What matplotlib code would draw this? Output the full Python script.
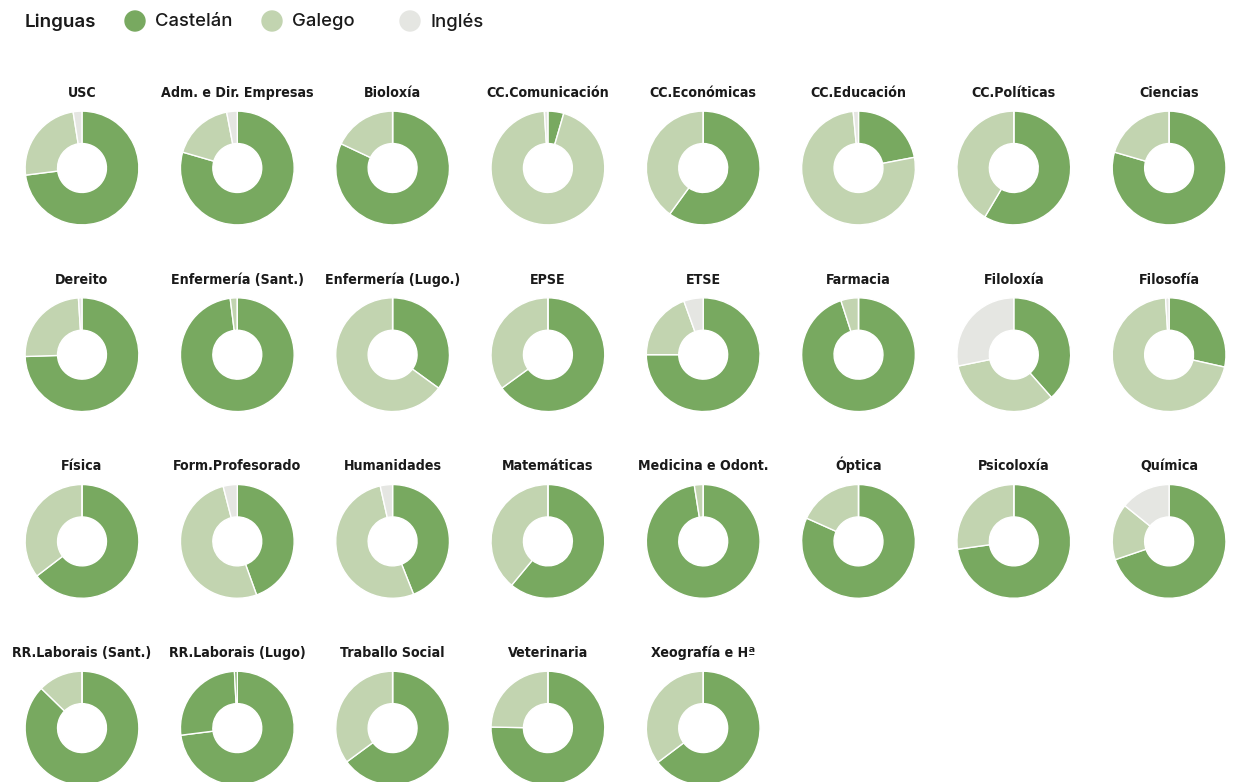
import matplotlib
matplotlib.use("Agg")
from matplotlib import pyplot as plt
from matplotlib.patches import Circle

# facultades / centros, en orden de lectura
centros = ["USC", "Adm. e Dir. Empresas", "Bioloxía", "CC.Comunicación",
           "CC.Económicas", "CC.Educación", "CC.Políticas", "Ciencias",
           "Dereito", "Enfermería (Sant.)", "Enfermería (Lugo.)", "EPSE",
           "ETSE", "Farmacia", "Filoloxía", "Filosofía",
           "Física", "Form.Profesorado", "Humanidades", "Matemáticas",
           "Medicina e Odont.", "Óptica", "Psicoloxía", "Química",
           "RR.Laborais (Sant.)", "RR.Laborais (Lugo)", "Traballo Social",
           "Veterinaria", "Xeografía e Hª"]

# porcentaxe por lingua
castelan = [73.0, 79.5, 82.0, 4.5, 60.0, 22.0, 58.5, 79.5,
            74.5, 98.0, 35.0, 65.0, 75.0, 95.0, 38.5, 28.5,
            64.6, 44.5, 44.0, 61.0, 97.5, 81.7, 72.8, 69.8,
            87.3, 73.0, 64.9, 75.3, 64.7]
galego = [24.5, 17.5, 18.0, 94.5, 40.0, 76.5, 41.5, 20.5,
          24.5, 2.0, 65.0, 35.0, 19.5, 5.0, 33.3, 70.5,
          35.4, 51.5, 52.5, 39.0, 2.5, 18.3, 27.2, 16.0,
          12.7, 26.2, 35.1, 24.7, 35.3]
ingles = [2.5, 3.0, 0.0, 1.0, 0.0, 1.5, 0.0, 0.0,
          1.0, 0.0, 0.0, 0.0, 5.5, 0.0, 28.2, 1.0,
          0.0, 4.0, 3.5, 0.0, 0.0, 0.0, 0.0, 14.2,
          0.0, 0.8, 0.0, 0.0, 0.0]

linguas = ["Castelán", "Galego", "Inglés"]
cores = ["#78a960", "#c2d4b0", "#e5e6e2"]
# no orixinal este centro aparece todo en verde escuro
cores_especiais = {"RR.Laborais (Lugo)": ["#78a960", "#78a960", "#78a960"]}

W, H = 1246, 782
fig = plt.figure(figsize=(W / 100, H / 100), dpi=100)

ncol = 8
x0, dx = 82, 155.3
y0, dy = 168, 186.7
r = 58

for i, nome in enumerate(centros):
    fila, col = divmod(i, ncol)
    cx = x0 + col * dx
    cy = y0 + fila * dy
    ax = fig.add_axes([(cx - r) / W, (H - cy - r) / H, 2 * r / W, 2 * r / H])
    vals = [castelan[i], galego[i], ingles[i]]
    ax.pie(vals, colors=cores_especiais.get(nome, cores), startangle=90,
           counterclock=False, radius=1,
           wedgeprops=dict(width=0.57, edgecolor="white", linewidth=1))
    ax.set_xlim(-1.02, 1.02)
    ax.set_ylim(-1.02, 1.02)
    ax.set_aspect("equal")
    fig.text(cx / W, 1 - (cy - 71) / H, nome, ha="center", va="baseline",
             fontsize=10.2, fontweight="bold", fontstretch="condensed",
             color="#1a1a1a", family="DejaVu Sans")

# lenda
fig.text(25 / W, 1 - 22 / H, "Linguas", ha="left", va="center",
         fontsize=13.5, fontweight="semibold", color="#1a1a1a", family="Inter")
lx = [135, 272, 410]
for x, nome, cor in zip(lx, linguas, cores):
    fig.patches.append(Circle((x, H - 21), 10, color=cor,
                              transform=None, figure=fig))
    fig.text((x + 20) / W, 1 - 22 / H, nome, ha="left", va="center",
             fontsize=13.3, fontweight="medium", color="#1a1a1a", family="Inter")

fig.savefig("out.png", dpi=100)
